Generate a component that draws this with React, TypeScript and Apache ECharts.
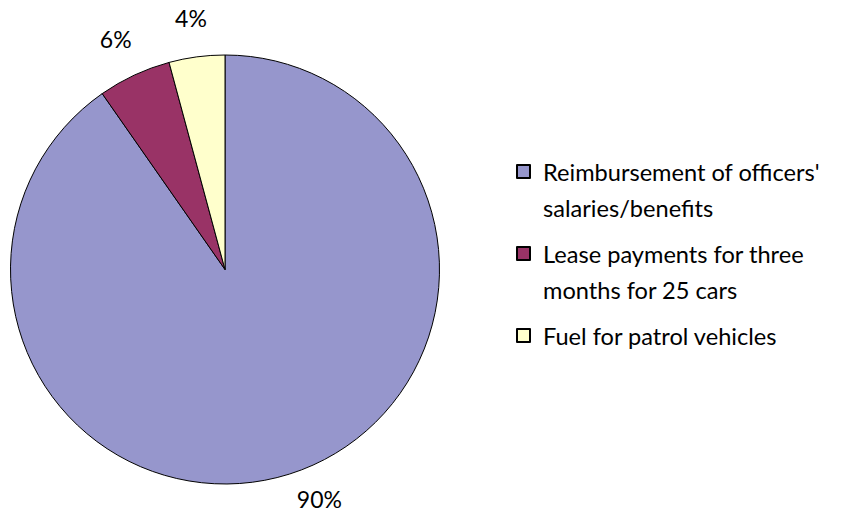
import React, { useEffect, useRef } from "react";
import * as echarts from "echarts";

const categories = [
  "Reimbursement of officers' salaries/benefits",
  "Lease payments for three months for 25 cars",
  "Fuel for patrol vehicles",
];
const legendLines = [
  ["Reimbursement of officers'", "salaries/benefits"],
  ["Lease payments for three", "months for 25 cars"],
  ["Fuel for patrol vehicles"],
];
const values = [90.3, 5.5, 4.2];
const colors = ["#9696CC", "#993366", "#FFFFCC"];

const FONT = "Lato";
const W = 843;
const H = 513;

export default function App() {
  const ref = useRef<HTMLDivElement>(null);
  useEffect(() => {
    if (!ref.current) return;
    const chart = echarts.init(ref.current, undefined, { renderer: "svg" });
    const lineH = 36;
    const labelGap = 28;
    const labelGapMin = 21;
    chart.setOption({
      animation: false,
      backgroundColor: "#ffffff",
      legend: {
        orient: "vertical",
        left: 516,
        top: 117.5,
        padding: 0,
        itemWidth: 13,
        itemHeight: 13,
        itemGap: -26,
        icon: "rect",
        selectedMode: false,
        textStyle: {
          fontFamily: FONT,
          fontSize: 23.6,
          color: "#000",
          lineHeight: lineH,
          padding: [0, 0, 0, 8],
        },
        data: categories,
        formatter: (name: string) => {
          const i = categories.indexOf(name);
          const lines = legendLines[i];
          // keep the first line level with the marker
          return ["", ...lines, ...(lines.length === 1 ? [""] : [])].join("\n");
        },
      },
      series: [
        {
          type: "pie",
          center: [225, 269.5],
          radius: 214.5,
          startAngle: 90,
          clockwise: true,
          avoidLabelOverlap: false,
          percentPrecision: 0,
          itemStyle: { borderColor: "#000", borderWidth: 1 },
          emphasis: { disabled: true },
          label: {
            show: true,
            position: "outside",
            formatter: "{d}%",
            fontFamily: FONT,
            fontSize: 23,
            color: "#000",
          },
          labelLine: {
            show: true,
            length: labelGap,
            length2: 0,
            lineStyle: { opacity: 0 },
          },
          labelLayout: (p: any) => {
            const pts = p.labelLinePoints;
            if (!pts) return {};
            const [x0, y0] = pts[0];
            const [x1, y1] = pts[1];
            const len = Math.hypot(x1 - x0, y1 - y0) || 1;
            let ux = (x1 - x0) / len;
            let uy = (y1 - y0) / len;
            const w = p.labelRect.width;
            const h = p.labelRect.height;
            const cx = 225;
            const cy = 269.5;
            let rr = Math.hypot(x1 - cx, y1 - cy);
            const rrMin = Math.hypot(x0 - cx, y0 - cy) + labelGapMin;
            const place = () => ({
              x: cx + ux * rr + (ux * w) / 2,
              y: cy + uy * rr + (uy * h) / 2,
            });
            let pos = place();
            // pull the label in, then slide it along the circle, until it fits
            const step = (0.25 * Math.PI) / 180;
            const dirSign = ux >= 0 ? 1 : -1;
            for (let k = 0; k < 400; k++) {
              if (pos.y + h / 2 <= H - 2 && pos.y - h / 2 >= 0) break;
              if (rr > rrMin) {
                rr = Math.max(rrMin, rr - 0.5);
              } else {
                const ang = Math.atan2(uy, ux);
                const rot = uy > 0 ? -dirSign * step : dirSign * step;
                ux = Math.cos(ang + rot);
                uy = Math.sin(ang + rot);
              }
              pos = place();
            }
            return { x: pos.x, y: pos.y, align: "center", verticalAlign: "middle" };
          },
          data: categories.map((name, i) => ({
            name,
            value: values[i],
            itemStyle: { color: colors[i] },
          })),
        },
      ],
    });
    return () => chart.dispose();
  }, []);
  return <div ref={ref} style={{ width: W, height: H, position: "absolute", left: 0, top: 0 }} />;
}
